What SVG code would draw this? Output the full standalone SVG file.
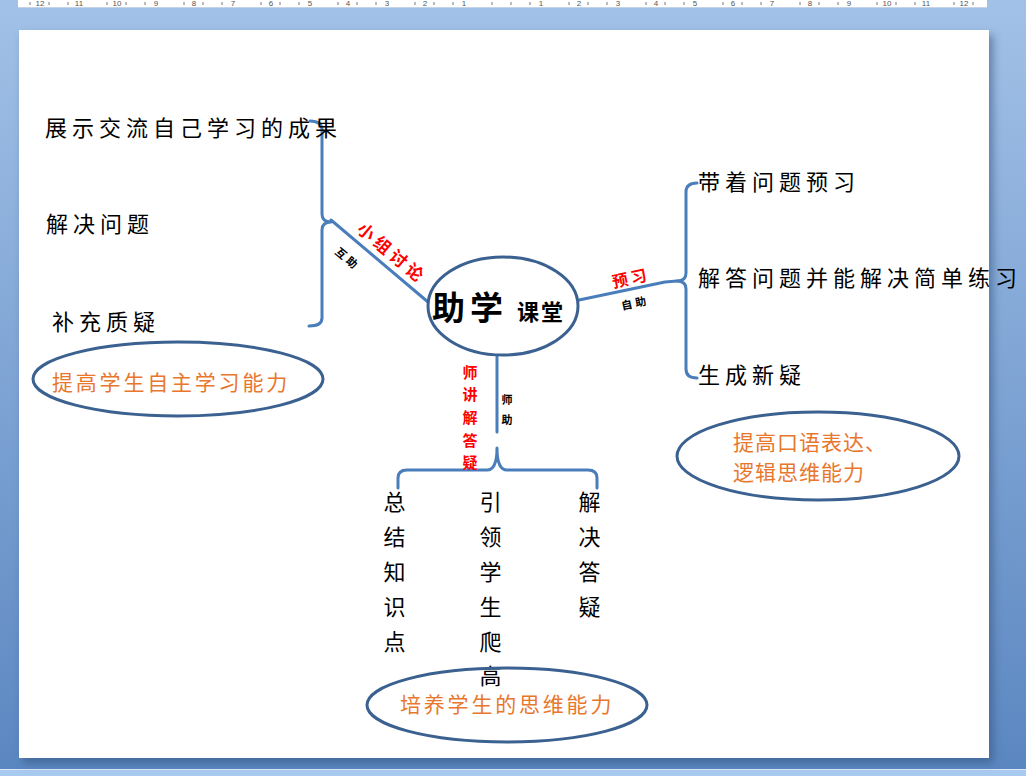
<svg xmlns="http://www.w3.org/2000/svg" width="1026" height="776" viewBox="0 0 1026 776">
<defs>
<linearGradient id="bg" x1="0" y1="0" x2="0" y2="1">
<stop offset="0" stop-color="#a2c1e7"/>
<stop offset="1" stop-color="#5a86c0"/>
</linearGradient>
<filter id="sh" x="-5%" y="-5%" width="110%" height="110%">
<feGaussianBlur stdDeviation="4"/>
</filter>
<style>
.br{fill:none;stroke:#4a7ebb;stroke-width:3;stroke-linecap:round;stroke-linejoin:round}
.el{fill:none;stroke:#3b6190;stroke-width:3}
.t{font-family:"Noto Sans CJK SC","Noto Sans CJK JP",sans-serif;font-size:22px;fill:#000;letter-spacing:5px}
.o{font-family:"Noto Sans CJK SC","Noto Sans CJK JP",sans-serif;font-size:21px;fill:#e8772e}
.r{font-family:"Noto Sans CJK SC","Noto Sans CJK JP",sans-serif;font-weight:bold;fill:#ff0000}
.s{font-family:"Noto Sans CJK SC","Noto Sans CJK JP",sans-serif;font-weight:bold;font-size:11px;fill:#000}
.ru{font-family:"Liberation Sans",sans-serif;font-size:8px;fill:#555;text-anchor:middle}
</style>
</defs>
<rect x="0" y="0" width="1026" height="776" fill="url(#bg)"/>
<rect x="0" y="769" width="1026" height="7" fill="#a9caf0"/>
<rect x="0" y="769" width="1026" height="1" fill="#dbe9fa"/>
<!-- ruler -->
<g id="ruler">
<rect x="18" y="0" width="969" height="7" fill="#ffffff"/>
<rect x="18" y="7" width="969" height="1" fill="#c5d3e6"/>
<g stroke="#777" stroke-width="1">
<path d="M30,2v3M49,2v3M68,2v3M107,2v3M126,2v3M145,2v3M184,2v3M203,2v3M222,2v3M261,2v3M280,2v3M299,2v3M338,2v3M357,2v3M376,2v3M415,2v3M434,2v3M453,2v3M492,2v3M511,2v3M530,2v3M569,2v3M588,2v3M607,2v3M646,2v3M665,2v3M684,2v3M723,2v3M742,2v3M761,2v3M800,2v3M819,2v3M838,2v3M877,2v3M896,2v3M915,2v3M954,2v3M973,2v3"/>
</g>
<text class="ru" x="40" y="6">12</text><text class="ru" x="79" y="6">11</text><text class="ru" x="117" y="6">10</text><text class="ru" x="156" y="6">9</text><text class="ru" x="194" y="6">8</text><text class="ru" x="233" y="6">7</text><text class="ru" x="271" y="6">6</text><text class="ru" x="310" y="6">5</text><text class="ru" x="348" y="6">4</text><text class="ru" x="387" y="6">3</text><text class="ru" x="425" y="6">2</text><text class="ru" x="464" y="6">1</text>
<text class="ru" x="541" y="6">1</text><text class="ru" x="579" y="6">2</text><text class="ru" x="618" y="6">3</text><text class="ru" x="656" y="6">4</text><text class="ru" x="695" y="6">5</text><text class="ru" x="733" y="6">6</text><text class="ru" x="772" y="6">7</text><text class="ru" x="810" y="6">8</text><text class="ru" x="849" y="6">9</text><text class="ru" x="887" y="6">10</text><text class="ru" x="926" y="6">11</text><text class="ru" x="964" y="6">12</text>
</g>
<!-- page -->
<rect x="23" y="35" width="970" height="728" fill="#2f4f7a" opacity="0.55" filter="url(#sh)"/>
<rect x="19" y="30" width="970" height="728" fill="#ffffff"/>

<g id="connectors">
<path class="br" d="M310,121 Q322,121 322,130 L322,214 Q322,222 331,222 Q322,222 322,230 L322,318 Q322,326 309,326"/>
<path class="br" d="M331,220 L428,302"/>
<path class="br" d="M697,183 Q686,183 686,192 L686,273 Q686,281 677,281 Q686,281 686,289 L686,369 Q686,378 697,378"/>
<path class="br" d="M579,300 L665,282 L677,281"/>
<path class="br" d="M497,357 L497,432"/>
<path class="br" d="M398,488 L398,478 Q398,470 407,470 L487,470 Q497,470 497,448 Q497,470 507,470 L588,470 Q597,470 597,478 L597,488"/>
</g>

<g id="center">
<ellipse class="el" cx="503" cy="306" rx="75" ry="49"/>
<text x="432" y="320" font-family="'Noto Sans CJK SC',sans-serif" font-weight="bold" font-size="33" letter-spacing="5" fill="#000">助学</text>
<text x="517" y="320" font-family="'Noto Sans CJK SC',sans-serif" font-weight="bold" font-size="22" letter-spacing="2" fill="#000">课堂</text>
</g>

<g id="label-left">
<text class="r" font-size="17" letter-spacing="4" text-anchor="middle" transform="translate(388,258) rotate(40)">小组讨论</text>
<text class="s" letter-spacing="3" text-anchor="middle" transform="translate(345,262) rotate(40)">互助</text>
</g>
<g id="label-right">
<text class="r" font-size="16" letter-spacing="3" text-anchor="middle" transform="translate(632,284) rotate(-12)">预习</text>
<text class="s" letter-spacing="3" text-anchor="middle" transform="translate(636,307) rotate(-12)">自助</text>
</g>
<g id="label-bottom">
<text class="r" font-size="15" text-anchor="middle"><tspan x="470" y="378">师</tspan><tspan x="470" y="400">讲</tspan><tspan x="470" y="423">解</tspan><tspan x="470" y="446">答</tspan><tspan x="470" y="468">疑</tspan></text>
<text class="s" text-anchor="middle"><tspan x="507" y="404">师</tspan><tspan x="507" y="424">助</tspan></text>
</g>

<g id="left-items">
<text class="t" x="45" y="136">展示交流自己学习的成果</text>
<text class="t" x="46" y="232">解决问题</text>
<text class="t" x="52" y="330">补充质疑</text>
</g>
<g id="right-items">
<text class="t" x="698" y="190">带着问题预习</text>
<text class="t" x="698" y="286">解答问题并能解决简单练习</text>
<text class="t" x="698" y="383">生成新疑</text>
</g>
<g id="bottom-items">
<text class="t" text-anchor="middle" letter-spacing="0"><tspan x="397" y="510">总</tspan><tspan x="397" y="545">结</tspan><tspan x="397" y="580">知</tspan><tspan x="397" y="615">识</tspan><tspan x="397" y="650">点</tspan></text>
<text class="t" text-anchor="middle" letter-spacing="0"><tspan x="493" y="510">引</tspan><tspan x="493" y="545">领</tspan><tspan x="493" y="580">学</tspan><tspan x="493" y="615">生</tspan><tspan x="493" y="650">爬</tspan><tspan x="493" y="684">高</tspan></text>
<text class="t" text-anchor="middle" letter-spacing="0"><tspan x="592" y="510">解</tspan><tspan x="592" y="545">决</tspan><tspan x="592" y="580">答</tspan><tspan x="592" y="615">疑</tspan></text>
</g>

<g id="goal-left">
<ellipse class="el" cx="178" cy="379" rx="145" ry="37"/>
<text class="o" x="52" y="390" letter-spacing="2.8">提高学生自主学习能力</text>
</g>
<g id="goal-right">
<ellipse class="el" cx="818" cy="456" rx="141" ry="44"/>
<text class="o" x="733" y="450" letter-spacing="1">提高口语表达、</text>
<text class="o" x="733" y="480" letter-spacing="1">逻辑思维能力</text>
</g>
<g id="goal-bottom">
<ellipse class="el" cx="507" cy="705" rx="140" ry="37"/>
<text class="o" x="400" y="712" letter-spacing="2.8">培养学生的思维能力</text>
</g>
</svg>
